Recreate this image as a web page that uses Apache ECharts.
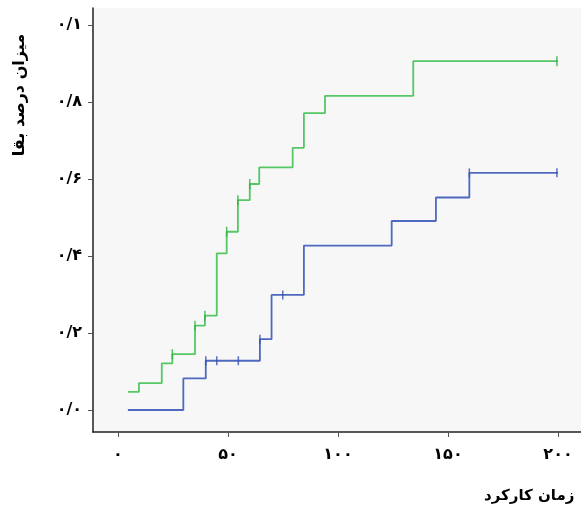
<!DOCTYPE html>
<html>
<head>
<meta charset="utf-8">
<script src="https://cdn.jsdelivr.net/npm/echarts@6/dist/echarts.min.js"></script>
<style>html,body{margin:0;padding:0;background:#fff}#c{width:581px;height:513px}</style>
</head>
<body>
<div id="c"></div>
<script>
const xTicks = [0, 50, 100, 150, 200];
const xTickLabels = ['۰', '۵۰', '۱۰۰', '۱۵۰', '۲۰۰'];
const yTicks = [0, 0.2, 0.4, 0.6, 0.8, 1.0];
const yTickLabels = ['۰/۰', '۰/۲', '۰/۴', '۰/۶', '۰/۸', '۰/۱'];
const xTitle = 'زمان کارکرد';
const yTitle = 'میزان درصد بقا';

const greenTimes  = [4.5, 9.5, 19.9, 24.7, 35, 39.5, 44.9, 49.4, 54.5, 59.9, 64.2, 79.4, 84.5, 94.1, 134.2, 200];
const greenValues = [0.047, 0.070, 0.121, 0.145, 0.219, 0.245, 0.407, 0.463, 0.545, 0.587, 0.630, 0.681, 0.771, 0.816, 0.906, 0.906];
const greenCensor = [24.7, 35, 39.5, 49.4, 54.5, 59.9, 199.5];

const blueTimes  = [4.5, 29.7, 39.9, 64.5, 69.8, 84.5, 124.4, 144.5, 159.7, 200];
const blueValues = [0, 0.082, 0.128, 0.184, 0.299, 0.427, 0.491, 0.552, 0.616, 0.616];
const blueCensor = [39.9, 44.9, 54.7, 64.5, 74.9, 159.7, 199.5];

function levelAt(times, values, t) {
  let v = values[0];
  for (let i = 0; i < times.length; i++) { if (times[i] <= t + 1e-9) v = values[i]; }
  return v;
}
const zip = (a, b) => a.map((x, i) => [x, b[i]]);

const GREEN = '#55c865';
const BLUE = '#5069c0';
const FONT = 'DejaVu Sans';

const chart = echarts.init(document.getElementById('c'), null, {renderer: 'canvas'});
chart.setOption({
  animation: false,
  backgroundColor: '#ffffff',
  grid: {left: 93, top: 8, right: 0, bottom: 81, show: true, backgroundColor: '#f7f7f7', borderWidth: 0},
  xAxis: {
    type: 'value', min: -11.36, max: 210.45,
    axisLine: {show: true, onZero: false, lineStyle: {color: '#222', width: 1.5}},
    axisTick: {show: true, length: 5, customValues: xTicks, lineStyle: {color: '#555', width: 1}},
    axisLabel: {customValues: xTicks, margin: 15, fontFamily: FONT, fontWeight: 'bold', fontSize: 16, color: '#000',
      formatter: v => { const i = xTicks.findIndex(t => Math.abs(t - v) < 1e-6); return i >= 0 ? xTickLabels[i] : ''; }},
    splitLine: {show: false}
  },
  yAxis: {
    type: 'value', min: -0.0571, max: 1.0442,
    axisLine: {show: true, onZero: false, lineStyle: {color: '#222', width: 1.5}},
    axisTick: {show: true, length: 5, customValues: yTicks, lineStyle: {color: '#555', width: 1}},
    axisLabel: {customValues: yTicks, margin: 11, fontFamily: FONT, fontWeight: 'bold', fontSize: 16, color: '#000',
      formatter: v => { const i = yTicks.findIndex(t => Math.abs(t - v) < 1e-6); return i >= 0 ? yTickLabels[i] : ''; }},
    splitLine: {show: false}
  },
  graphic: [
    {type: 'text', left: 484, top: 489, style: {text: xTitle, font: 'bold 15px "DejaVu Sans"', fill: '#000'}},
    {type: 'text', x: 20, y: 95, rotation: Math.PI / 2,
      style: {text: yTitle, font: 'bold 16px "DejaVu Sans"', fill: '#000', align: 'center', verticalAlign: 'middle'}}
  ],
  series: [
    {type: 'line', step: 'end', data: zip(greenTimes, greenValues), showSymbol: false, symbol: 'none',
      lineStyle: {color: GREEN, width: 1.8}, z: 3},
    {type: 'line', step: 'end', data: zip(blueTimes, blueValues), showSymbol: false, symbol: 'none',
      lineStyle: {color: BLUE, width: 1.8}, z: 2},
    {type: 'scatter', data: greenCensor.map(t => [t, levelAt(greenTimes, greenValues, t)]),
      symbol: 'rect', symbolSize: [1.5, 10], itemStyle: {color: '#2fae42'}, z: 4},
    {type: 'scatter', data: blueCensor.map(t => [t, levelAt(blueTimes, blueValues, t)]),
      symbol: 'rect', symbolSize: [1.5, 9], itemStyle: {color: '#3550b0'}, z: 4}
  ]
});
</script>
</body>
</html>
